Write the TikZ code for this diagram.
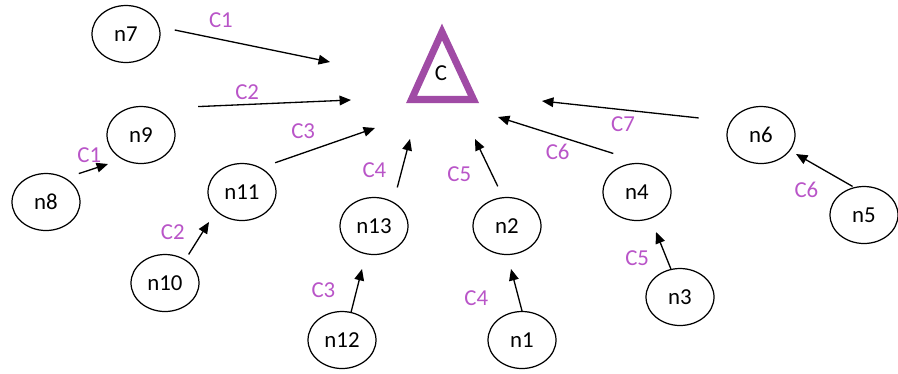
\documentclass[tikz,border=0pt]{standalone}
\usepackage{fontspec}
\setmainfont{Carlito}
\usepackage{tikz}
\usetikzlibrary{arrows.meta,positioning,shapes.geometric}
\definecolor{cpurple}{RGB}{160,75,165}
\definecolor{cpink}{RGB}{185,85,200}

\begin{document}
\begin{tikzpicture}[
  x=0.02cm, y=-0.02cm,
  every node/.style={font=\fontsize{13}{15}\selectfont},
  member/.style={draw, ellipse, minimum width=1.36cm, minimum height=1.14cm,
    inner sep=0pt, line width=0.7pt},
  head/.style={draw=cpurple, line width=4pt, line join=miter},
  arr/.style={-{Triangle[length=6.5pt,width=5.5pt]}, line width=0.75pt},
  lab/.style={text=cpink, inner sep=1pt}
]
  \useasboundingbox (0,0) rectangle (898,373);

  % cluster head
  \draw[head] (442,32) -- (473.5,99.5) -- (411.5,99.5) -- cycle;
  \node (c) at (441,73) {C};

  % members
  \node[member] (n7) at (126,34) {n7};
  \node[member] (n9) at (141,135) {n9};
  \node[member] (n8) at (46,202) {n8};
  \node[member] (n11) at (242,192) {n11};
  \node[member] (n10) at (165,283) {n10};
  \node[member] (n13) at (374,226) {n13};
  \node[member] (n12) at (342,340) {n12};
  \node[member] (n2) at (507,226) {n2};
  \node[member] (n1) at (522,340) {n1};
  \node[member] (n4) at (637,192) {n4};
  \node[member] (n3) at (680,297) {n3};
  \node[member] (n6) at (761,135) {n6};
  \node[member] (n5) at (864,215) {n5};

  % arrow tips
  \coordinate (t7) at (330,62);
  \coordinate (t9) at (351,100);
  \coordinate (t11) at (375,128);
  \coordinate (t8) at (108,164);
  \coordinate (t10) at (209,222);
  \coordinate (t13) at (410,139);
  \coordinate (t12) at (362,269);
  \coordinate (t2) at (475,139);
  \coordinate (t1) at (511,269);
  \coordinate (t4) at (498,117);
  \coordinate (t3) at (656,232);
  \coordinate (t6) at (542,101);
  \coordinate (t5) at (796,154);

  \draw[arr, shorten <=0.31cm] (n7.12) -- node[lab, pos=.36, above=5.4pt] {C1} (t7);
  \draw[arr, shorten <=0.86cm] (n9.62) -- node[lab, pos=.47, above=1.5pt] {C2} (t9);
  \draw[arr, shorten <=0.3cm] (n11.52) -- node[lab, pos=.37, above=6.8pt] {C3} (t11);
  \draw[arr, shorten <=0.28cm] (n8.51) -- node[lab, pos=.56, above=3pt] {C1} (t8);
  \draw[arr, shorten <=0.12cm] (n10.49) -- node[lab, pos=.74, left=9pt] {C2} (t10);
  \draw[arr, shorten <=0.3cm] (n13.51) -- node[lab, pos=.5, left=7.4pt] {C4} (t13);
  \draw[arr] (n12.72) -- node[lab, pos=.51, left=10.8pt] {C3} (t12);
  \draw[arr, shorten <=0.24cm] (n2.98) -- node[lab, pos=.39, left=10.5pt] {C5} (t2);
  \draw[arr] (n1.90) -- node[lab, pos=.3, left=16pt] {C4} (t1);
  \draw[arr, shorten <=0.71cm] (n4.70) -- node[lab, pos=.6, below=3.4pt] {C6} (t4);
  \draw[arr] (n3.108) -- node[lab, pos=.3, left=8.5pt] {C5} (t3);
  \draw[arr, shorten <=0.64cm] (n6.156) -- node[lab, pos=.57, below=2.3pt] {C7} (t6);
  \draw[arr, shorten <=0.03cm] (n5.110) -- node[lab, pos=.82, below=11pt] {C6} (t5);
\end{tikzpicture}
\end{document}
